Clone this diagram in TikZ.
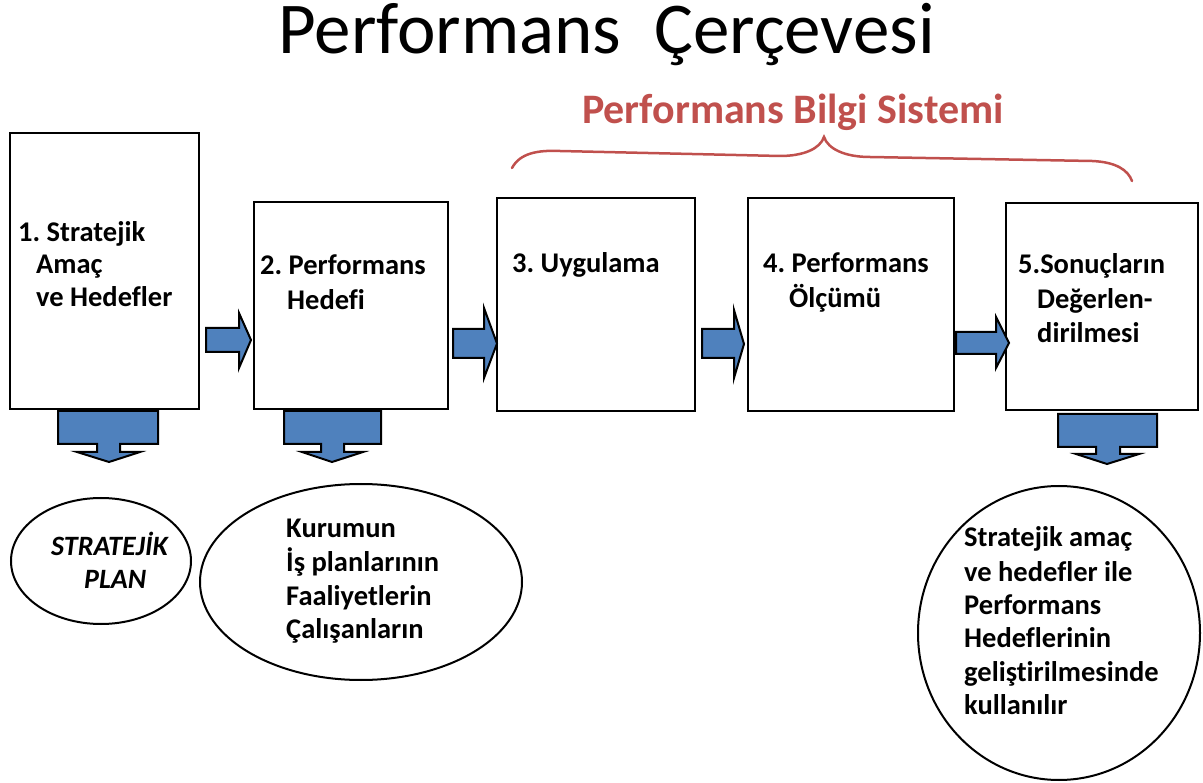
\documentclass[tikz,border=0pt]{standalone}
\usepackage{fontspec}
\setmainfont{Carlito}[RawFeature=-liga]
\usetikzlibrary{shapes.geometric}
\definecolor{arrowblue}{HTML}{4F81BD}
\definecolor{bracered}{HTML}{C0504D}
\frenchspacing
\begin{document}
\begin{tikzpicture}[x=1pt,y=-1pt,
  box/.style={draw=black, line width=2.5pt, fill=white, inner sep=0pt, outer sep=0pt},
  blockarrow/.style={draw=black, line width=2pt, fill=arrowblue, line join=miter},
  txt/.style={anchor=base west, inner sep=0pt, font=\bfseries\fontsize{28.5}{34}\selectfont},
  oval/.style={draw=black, ellipse, line width=2pt, inner sep=0pt, outer sep=0pt},
]
\useasboundingbox (0,0) rectangle (1203,783);

% title
\node[anchor=base, inner sep=0pt, font=\fontsize{73}{80}\selectfont] (title) at (606.5,54) {Performans\ \ Çerçevesi};
\node[anchor=base, inner sep=0pt, text=bracered, font=\bfseries\fontsize{42}{48}\selectfont] (pbs) at (793,124) {Performans Bilgi Sistemi};

% brace
\draw[bracered, line width=2.5pt, line cap=round]
  (512,168) .. controls (520,153) and (538,150) .. (560,151)
  -- (780,156) .. controls (803,156) and (820,149) .. (824,137)
  .. controls (828,149) and (845,157) .. (870,157)
  -- (1092,161) .. controls (1116,162) and (1128,170) .. (1132,181);

% boxes
\node[box, minimum width=189pt, minimum height=276pt] (b1) at (104.5,271) {};
\node[box, minimum width=194pt, minimum height=207pt] (b2) at (351,305.5) {};
\node[box, minimum width=198pt, minimum height=213pt] (b3) at (596,304.5) {};
\node[box, minimum width=206pt, minimum height=213pt] (b4) at (851,304.5) {};
\node[box, minimum width=192pt, minimum height=207pt] (b5) at (1102,306.5) {};

% box texts
\node[txt] (t1a) at (18,242) {1. Stratejik};
\node[txt] (t1b) at (36,274) {Amaç};
\node[txt] (t1c) at (36,307) {ve Hedefler};
\node[txt] (t2a) at (260,275) {2. Performans};
\node[txt] (t2b) at (287,310) {Hedefi};
\node[txt] (t3a) at (512,273) {3. Uygulama};
\node[txt] (t4a) at (763,273) {4. Performans};
\node[txt] (t4b) at (789,308) {Ölçümü};
\node[txt] (t5a) at (1018,274) {5.Sonuçların};
\node[txt] (t5b) at (1037,309) {Değerlen-};
\node[txt] (t5c) at (1037,343) {dirilmesi};

% right block arrows
\draw[blockarrow] (206,328) -- (239,328) -- (239,313) -- (251,340) -- (239,368) -- (239,352) -- (206,352) -- cycle;
\draw[blockarrow] (453,329) -- (484,329) -- (484,308) -- (497,343.5) -- (484,378) -- (484,358) -- (453,358) -- cycle;
\draw[blockarrow] (702,329) -- (734,329) -- (734,310) -- (744,344) -- (734,378) -- (734,358) -- (702,358) -- cycle;
\draw[blockarrow] (956,332) -- (996,332) -- (996,317) -- (1009,343) -- (996,368) -- (996,354) -- (956,354) -- cycle;

% down callout arrows
\draw[blockarrow] (58,411) -- (158,411) -- (158,444) -- (120,444) -- (120,452) -- (140,452) -- (109,462) -- (77,452) -- (97,452) -- (97,444) -- (58,444) -- cycle;
\draw[blockarrow] (284,411) -- (381,411) -- (381,444) -- (344,444) -- (344,452) -- (363,452) -- (332,462) -- (302,452) -- (321,452) -- (321,444) -- (284,444) -- cycle;
\draw[blockarrow] (1058,414) -- (1157,414) -- (1157,447) -- (1120,447) -- (1120,454) -- (1139,454) -- (1107,464) -- (1076,454) -- (1096,454) -- (1096,447) -- (1058,447) -- cycle;

% ovals
\node[oval, minimum width=180pt, minimum height=126pt] (e1) at (101,561) {};
\node[oval, minimum width=322pt, minimum height=196pt] (e2) at (361,582) {};
\node[oval, minimum width=282pt, minimum height=294pt] (e3) at (1059,633) {};

% oval texts
\node[txt, font=\bfseries\itshape\fontsize{28}{34}\selectfont] (o1a) at (51,555) {STRATEJİK};
\node[txt, font=\bfseries\itshape\fontsize{28}{34}\selectfont] (o1b) at (84,588) {PLAN};
\node[txt] (o2a) at (286,538) {Kurumun};
\node[txt] (o2b) at (286,571) {İş planlarının};
\node[txt] (o2c) at (286,605) {Faaliyetlerin};
\node[txt] (o2d) at (286,638) {Çalışanların};
\node[txt] (o3a) at (964,547) {Stratejik amaç};
\node[txt] (o3b) at (964,581) {ve hedefler ile};
\node[txt] (o3c) at (964,614) {Performans};
\node[txt] (o3d) at (964,647) {Hedeflerinin};
\node[txt] (o3e) at (964,681) {geliştirilmesinde};
\node[txt] (o3f) at (964,714) {kullanılır};
\end{tikzpicture}
\end{document}
